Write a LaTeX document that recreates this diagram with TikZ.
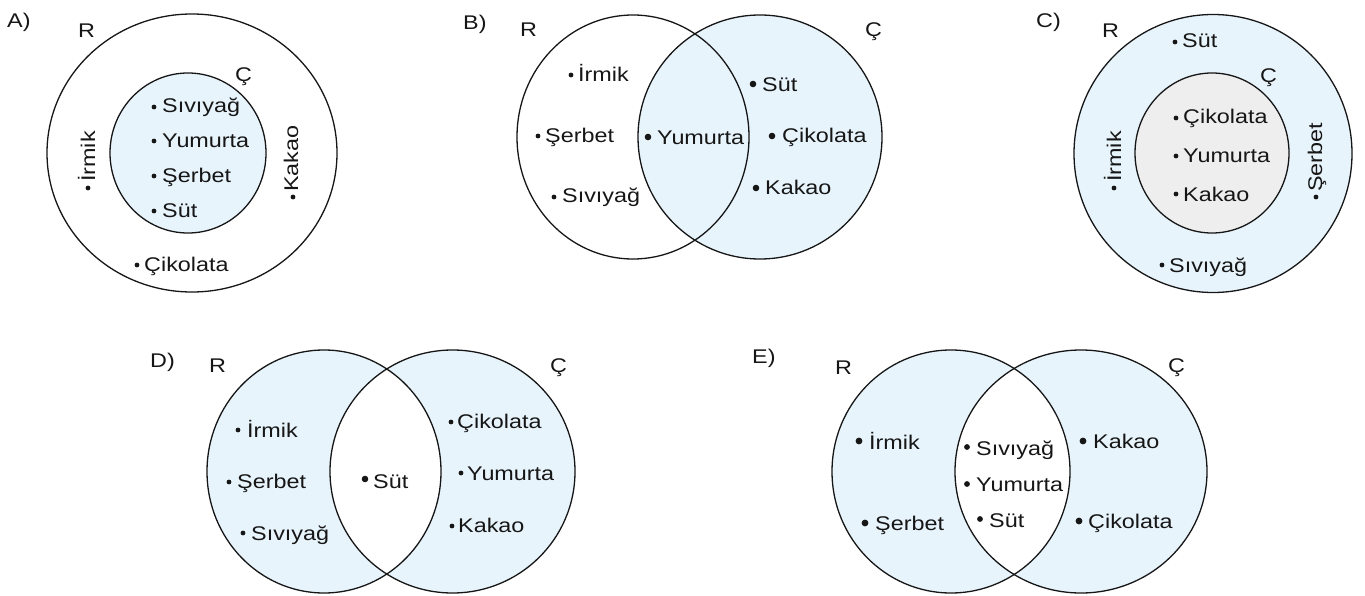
\documentclass[tikz,border=0pt]{standalone}
\usepackage{fontspec}
\setmainfont{Liberation Sans}[FakeStretch=1.18]
\definecolor{setblue}{RGB}{232,244,252}
\definecolor{setgray}{RGB}{238,238,238}
\definecolor{ink}{RGB}{22,22,22}
% item: name, dot x, dot y, text x, baseline y, text, dot radius
\newcommand{\itm}[7]{%
  \fill[ink] (#2,#3) circle[radius=#7];
  \node[lbl] (#1) at (#4,#5) {#6};}
\begin{document}
\begin{tikzpicture}[x=1pt,y=-1pt,
  lbl/.style={anchor=base west,inner sep=0pt,text=ink,font=\fontsize{19.8}{23}\selectfont},
  ring/.style={draw=ink,line width=1.3pt}]
\useasboundingbox (0,0) rectangle (1365,596);

% ---------- A ----------
\node[lbl] (a-tag) at (7,28) {A)};
\draw[ring] (192,153) ellipse[x radius=145,y radius=139];
\filldraw[ring,fill=setblue] (188,153) ellipse[x radius=78,y radius=80];
\node[lbl] (a-r) at (78,38) {R};
\node[lbl] (a-c) at (235,82) {Ç};
\itm{a-siviyag}{154}{107}{162}{113}{Sıvıyağ}{2.4}
\itm{a-yumurta}{154}{141}{162}{148}{Yumurta}{2.4}
\itm{a-serbet}{154}{176}{162}{183}{Şerbet}{2.4}
\itm{a-sut}{154}{211}{162}{218}{Süt}{2.4}
\itm{a-cikolata}{137}{265}{144}{271}{Çikolata}{2.4}
\fill[ink] (88,188) circle[radius=2.4];
\node[lbl,rotate=90] (a-irmik) at (95,182) {İrmik};
\fill[ink] (293,197) circle[radius=2.4];
\node[lbl,rotate=90] (a-kakao) at (298,192) {Kakao};

% ---------- B ----------
\node[lbl] (b-tag) at (463,30) {B)};
\fill[setblue] (760,137) circle[radius=122];
\draw[ring] (633,137) ellipse[x radius=116,y radius=122];
\draw[ring] (760,137) circle[radius=122];
\node[lbl] (b-r) at (520,37) {R};
\node[lbl] (b-c) at (865,37) {Ç};
\itm{b-irmik}{571}{75}{578}{82}{İrmik}{2.4}
\itm{b-serbet}{538}{136}{545}{143}{Şerbet}{2.4}
\itm{b-siviyag}{554}{197}{562}{203}{Sıvıyağ}{2.4}
\itm{b-yumurta}{648}{137}{657}{145}{Yumurta}{3.3}
\itm{b-sut}{753}{84}{762}{92}{Süt}{3.3}
\itm{b-cikolata}{772}{136}{782}{143}{Çikolata}{3.3}
\itm{b-kakao}{756}{188}{765}{195}{Kakao}{3.3}

% ---------- C ----------
\node[lbl] (c-tag) at (1036,28) {C)};
\filldraw[ring,fill=setblue] (1213,153.5) circle[radius=139];
\filldraw[ring,fill=setgray] (1212,153) ellipse[x radius=77,y radius=80];
\node[lbl] (c-r) at (1102,38) {R};
\node[lbl] (c-c) at (1260,83) {Ç};
\itm{c-sut}{1175}{42}{1182}{48}{Süt}{2.4}
\itm{c-cikolata}{1176}{118}{1183}{124}{Çikolata}{2.4}
\itm{c-yumurta}{1176}{156}{1183}{163}{Yumurta}{2.4}
\itm{c-kakao}{1176}{194}{1183}{202}{Kakao}{2.4}
\itm{c-siviyag}{1162}{265}{1169}{272}{Sıvıyağ}{2.4}
\fill[ink] (1114,188) circle[radius=2.4];
\node[lbl,rotate=90] (c-irmik) at (1121,182) {İrmik};
\fill[ink] (1316,197) circle[radius=2.4];
\node[lbl,rotate=90] (c-serbet) at (1322,192) {Şerbet};

% ---------- D ----------
\node[lbl] (d-tag) at (150,367) {D)};
\fill[setblue] (324,471.5) ellipse[x radius=117,y radius=121.5];
\fill[setblue] (452.5,471.5) ellipse[x radius=122.5,y radius=121.5];
\begin{scope}
  \clip (324,471.5) ellipse[x radius=117,y radius=121.5];
  \fill[white] (452.5,471.5) ellipse[x radius=122.5,y radius=121.5];
\end{scope}
\draw[ring] (324,471.5) ellipse[x radius=117,y radius=121.5];
\draw[ring] (452.5,471.5) ellipse[x radius=122.5,y radius=121.5];
\node[lbl] (d-r) at (209,372) {R};
\node[lbl] (d-c) at (550,372) {Ç};
\itm{d-irmik}{238}{430}{247}{437}{İrmik}{2.4}
\itm{d-serbet}{229}{482}{237}{488}{Şerbet}{2.4}
\itm{d-siviyag}{243}{533}{251}{540}{Sıvıyağ}{2.4}
\itm{d-sut}{365}{479}{373}{488}{Süt}{3.3}
\itm{d-cikolata}{451}{422}{457}{428}{Çikolata}{2.4}
\itm{d-yumurta}{461}{473}{467}{480}{Yumurta}{2.4}
\itm{d-kakao}{452}{526}{458}{532}{Kakao}{2.4}

% ---------- E ----------
\node[lbl] (e-tag) at (752,363) {E)};
\fill[setblue] (951,471.5) ellipse[x radius=119,y radius=121.5];
\fill[setblue] (1081,471.5) ellipse[x radius=126,y radius=121.5];
\begin{scope}
  \clip (951,471.5) ellipse[x radius=119,y radius=121.5];
  \fill[white] (1081,471.5) ellipse[x radius=126,y radius=121.5];
\end{scope}
\draw[ring] (951,471.5) ellipse[x radius=119,y radius=121.5];
\draw[ring] (1081,471.5) ellipse[x radius=126,y radius=121.5];
\node[lbl] (e-r) at (835,374) {R};
\node[lbl] (e-c) at (1168,372) {Ç};
\itm{e-irmik}{859}{441}{869}{449}{İrmik}{3.4}
\itm{e-serbet}{865}{523}{875}{530}{Şerbet}{3.4}
\itm{e-siviyag}{967}{447}{976}{455}{Sıvıyağ}{2.9}
\itm{e-yumurta}{967}{484}{976}{491}{Yumurta}{2.9}
\itm{e-sut}{980}{519}{989}{527}{Süt}{2.9}
\itm{e-kakao}{1083}{441}{1093}{448}{Kakao}{3.4}
\itm{e-cikolata}{1079}{521}{1088}{528}{Çikolata}{3.4}
\end{tikzpicture}
\end{document}
